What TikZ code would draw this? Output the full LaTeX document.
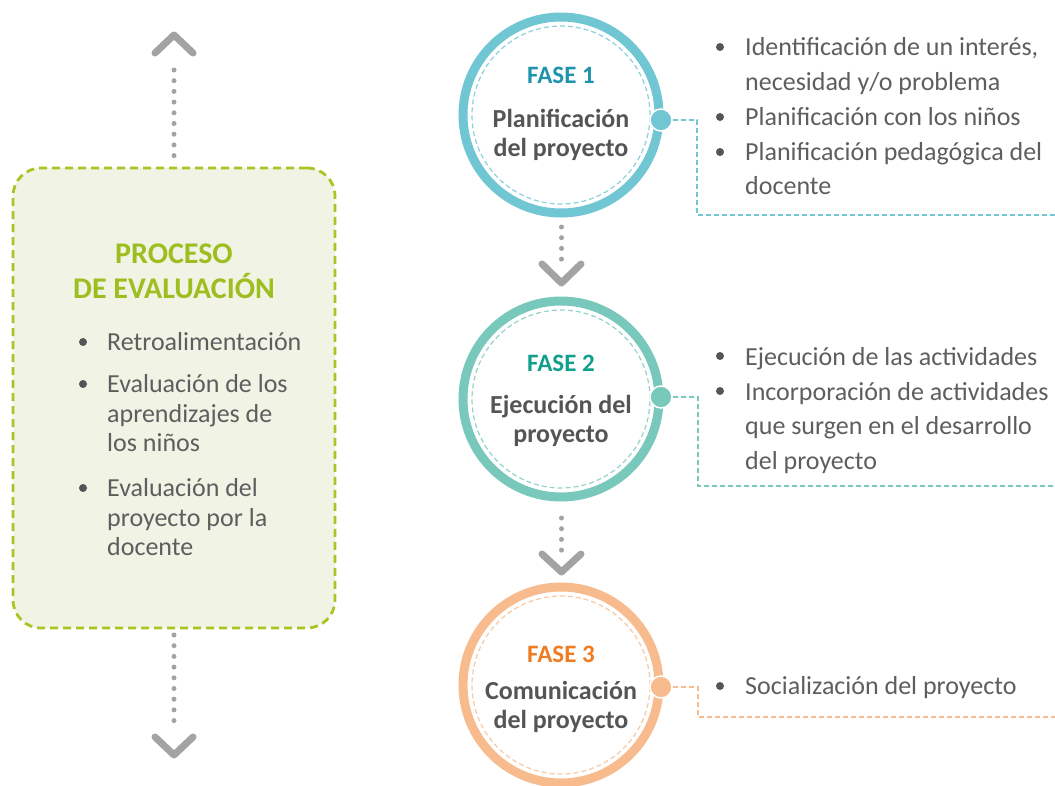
\documentclass[tikz,border=0pt]{standalone}
\usepackage{fontspec}
\setmainfont{Carlito}
\definecolor{cA}{HTML}{71C6D4}
\definecolor{cAt}{HTML}{2093AD}
\definecolor{cB}{HTML}{78C8BC}
\definecolor{cBt}{HTML}{12A08E}
\definecolor{cC}{HTML}{F8BB8D}
\definecolor{cCt}{HTML}{F07C22}
\definecolor{txtgray}{HTML}{5E5E5E}
\definecolor{boldgray}{HTML}{555555}
\definecolor{bulgray}{HTML}{555555}
\definecolor{chevgray}{HTML}{A3A3A3}
\definecolor{grn}{HTML}{9DBE1F}
\definecolor{boxline}{HTML}{A9C423}
\definecolor{boxfill}{HTML}{F1F3E5}
\tikzset{
  txt/.style={anchor=base west, font=\fontsize{26}{30}\selectfont, text=txtgray, inner sep=0pt},
  btxt/.style={anchor=base, font=\bfseries\fontsize{26}{30}\selectfont, text=boldgray, inner sep=0pt},
  fase/.style={anchor=base, font=\bfseries\fontsize{25}{30}\selectfont, inner sep=0pt},
  bul/.style={circle, fill=bulgray, inner sep=0pt, minimum size=8pt},
  dotline/.style={draw=chevgray, line width=5pt, line cap=round, dash pattern=on 0pt off 10.7pt},
  chev/.style={draw=chevgray, line width=7pt, line cap=round, line join=round},
  ring/.style={circle, draw=#1, line width=9pt, fill=white, minimum size=196pt, inner sep=0pt},
  inring/.style={draw=#1, line width=1.2pt, dash pattern=on 5pt off 3pt},
  knob/.style={circle, fill=#1, draw=white, line width=1.5pt, minimum size=22pt, inner sep=0pt},
  conn/.style={draw=#1, line width=1.4pt, dash pattern=on 5pt off 3pt},
  ttl/.style={anchor=base, font=\bfseries\fontsize{30}{32}\selectfont, text=grn, inner sep=0pt},
}
\begin{document}
\begin{tikzpicture}[x=1pt,y=-1pt]
\useasboundingbox (0,0) rectangle (1055,785);
\fill[white] (0,0) rectangle (1055,785);

% left box
\node[draw=boxline, fill=boxfill, line width=2.8pt, dash pattern=on 8pt off 5pt,
      rounded corners=28pt, minimum width=322pt, minimum height=460pt, inner sep=0pt] (box) at (174,398) {};
\node[ttl] (pt1) at (174,263) {PROCESO};
\node[ttl] (pt2) at (174,298) {DE EVALUACIÓN};
\node[bul] (lb1) at (83,342) {};
\node[txt] (l1) at (107,350) {Retroalimentación};
\node[bul] (lb2) at (83,384) {};
\node[txt] (l2) at (107,392) {Evaluación de los};
\node[txt] (l3) at (107,422) {aprendizajes de};
\node[txt] (l4) at (107,451) {los niños};
\node[bul] (lb3) at (83,488) {};
\node[txt] (l5) at (107,496) {Evaluación del};
\node[txt] (l6) at (107,526) {proyecto por la};
\node[txt] (l7) at (107,555) {docente};

% top and bottom arrows of left column
\coordinate (ta) at (174,70);
\coordinate (tb) at (174,163);
\draw[dotline] (ta) -- (tb);
\draw[chev] (155,53) -- (174,35) -- (193,53);
\coordinate (ba) at (174,635);
\coordinate (bb) at (174,725);
\draw[dotline] (ba) -- (bb);
\draw[chev] (155,737) -- (174,755) -- (193,737);

% arrows between circles
\draw[dotline] (561.5,227) -- (561.5,265);
\draw[chev] (542,264) -- (561.5,283) -- (581,264);
\draw[dotline] (561.5,518) -- (561.5,553);
\draw[chev] (542,554) -- (561.5,572) -- (581,554);

% circle 1
\node[ring=cA] (c1) at (561,115) {};
\draw[inring=cA!80] (c1.center) circle (89pt);
\node[fase, text=cAt] (f1) at (561,83) {FASE 1};
\node[btxt] (t1a) at (561,127) {Planificación};
\node[btxt] (t1b) at (561,156) {del proyecto};
\node[knob=cA] (d1) at (661,120) {};
\coordinate (k1) at (697,215);
\coordinate (e1) at (1056,215);
\draw[conn=cA] (d1) -| (k1) -- (e1);
\node[bul] (b11) at (720,47) {};
\node[txt] (r11) at (745,55) {Identificación de un interés,};
\node[txt] (r12) at (745,90) {necesidad y/o problema};
\node[bul] (b12) at (720,117) {};
\node[txt] (r13) at (745,125) {Planificación con los niños};
\node[bul] (b13) at (720,152) {};
\node[txt] (r14) at (745,160) {Planificación pedagógica del};
\node[txt] (r15) at (745,194) {docente};

% circle 2
\node[ring=cB] (c2) at (561,399) {};
\draw[inring=cB!80] (c2.center) circle (89pt);
\node[fase, text=cBt] (f2) at (561,371) {FASE 2};
\node[btxt] (t2a) at (561,413) {Ejecución del};
\node[btxt] (t2b) at (561,442) {proyecto};
\node[knob=cB] (d2) at (661,397) {};
\coordinate (k2) at (698,486);
\coordinate (e2) at (1056,486);
\draw[conn=cB] (d2) -| (k2) -- (e2);
\node[bul] (b21) at (720,356) {};
\node[txt] (r21) at (745,365) {Ejecución de las actividades};
\node[bul] (b22) at (720,391) {};
\node[txt] (r22) at (745,400) {Incorporación de actividades};
\node[txt] (r23) at (745,434) {que surgen en el desarrollo};
\node[txt] (r24) at (745,469) {del proyecto};

% circle 3
\node[ring=cC] (c3) at (561,685) {};
\draw[inring=cC!80] (c3.center) circle (89pt);
\node[fase, text=cCt] (f3) at (561,662) {FASE 3};
\node[btxt] (t3a) at (561,699) {Comunicación};
\node[btxt] (t3b) at (561,728) {del proyecto};
\node[knob=cC] (d3) at (661,687) {};
\coordinate (k3) at (698,717);
\coordinate (e3) at (1056,717);
\draw[conn=cC] (d3) -| (k3) -- (e3);
\node[bul] (b31) at (720,686) {};
\node[txt] (r31) at (745,694) {Socialización del proyecto};
\end{tikzpicture}
\end{document}
